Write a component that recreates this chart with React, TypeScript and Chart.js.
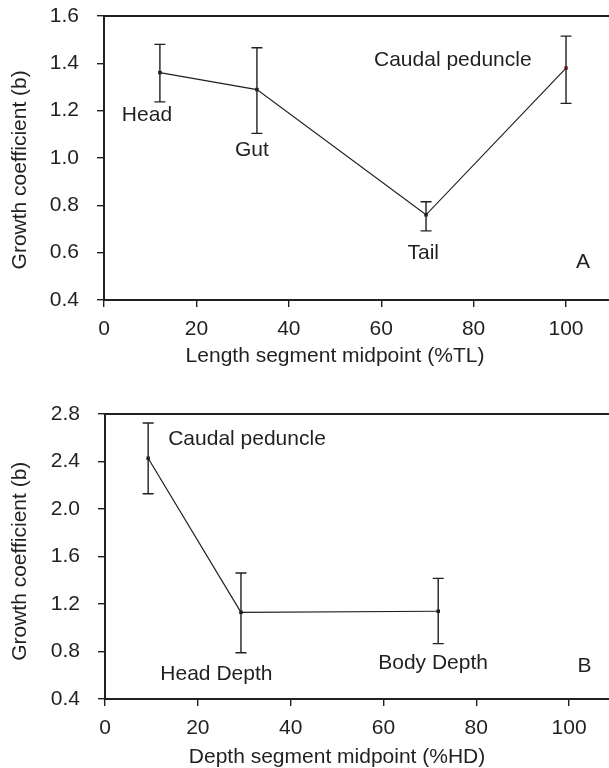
import React, { useEffect, useRef } from "react";
import { Chart, registerables } from "chart.js";

Chart.register(...registerables);

const FONT = '"Liberation Sans", Arial, Helvetica, sans-serif';
const INK = "#231f20";
const RED = "#9b1c1c";

// ---------- Panel A: length segments ----------
const lengthMidpoints = [12.1, 33.1, 69.7, 100];
const lengthGrowth = [1.361, 1.289, 0.76, 1.38];
const lengthLower = [1.237, 1.104, 0.692, 1.231];
const lengthUpper = [1.48, 1.466, 0.815, 1.515];
const lengthPointColors = [INK, INK, INK, RED];
const lengthNotes = ["Head", "Gut", "Tail", "Caudal peduncle", "A"];
const lengthNoteX = [9.3, 32.0, 69.1, 75.5, 103.7];
const lengthNoteY = [1.179, 1.031, 0.599, 1.412, 0.56];
const lengthXTicks = [0, 20, 40, 60, 80, 100];
const lengthYTicks = [0.4, 0.6, 0.8, 1.0, 1.2, 1.4, 1.6];

// ---------- Panel B: depth segments ----------
const depthMidpoints = [9.3, 29.3, 71.8];
const depthGrowth = [2.427, 1.13, 1.139];
const depthLower = [2.129, 0.79, 0.866];
const depthUpper = [2.724, 1.461, 1.416];
const depthPointColors = [INK, INK, INK];
const depthNotes = ["Caudal peduncle", "Head Depth", "Body Depth", "B"];
const depthNoteX = [30.6, 24.0, 70.7, 103.3];
const depthNoteY = [2.589, 0.611, 0.703, 0.678];
const depthXTicks = [0, 20, 40, 60, 80, 100];
const depthYTicks = [0.4, 0.8, 1.2, 1.6, 2.0, 2.4, 2.8];

const extrasPlugin = {
  id: "panelExtras",
  afterDraw(chart: any, _args: any, opts: any) {
    const { ctx, chartArea } = chart;
    const xs = chart.scales.x;
    const ys = chart.scales.y;
    ctx.save();
    // top frame line
    ctx.strokeStyle = INK;
    ctx.lineWidth = 2;
    ctx.beginPath();
    ctx.moveTo(chartArea.left - 1, chartArea.top);
    ctx.lineTo(chart.width, chartArea.top);
    ctx.stroke();

    // error bars
    ctx.lineWidth = 1.4;
    const xsVals: number[] = opts.xVals;
    xsVals.forEach((xv, i) => {
      const px = xs.getPixelForValue(xv);
      const lo = ys.getPixelForValue(opts.lower[i]);
      const hi = ys.getPixelForValue(opts.upper[i]);
      ctx.beginPath();
      ctx.moveTo(px, lo);
      ctx.lineTo(px, hi);
      ctx.moveTo(px - 5.5, lo);
      ctx.lineTo(px + 5.5, lo);
      ctx.moveTo(px - 5.5, hi);
      ctx.lineTo(px + 5.5, hi);
      ctx.stroke();
    });

    // annotations
    ctx.fillStyle = INK;
    ctx.font = `21px ${FONT}`;
    ctx.textAlign = "center";
    ctx.textBaseline = "middle";
    (opts.notes as string[]).forEach((t, i) => {
      ctx.fillText(t, xs.getPixelForValue(opts.noteX[i]), ys.getPixelForValue(opts.noteY[i]));
    });

    // x title
    ctx.fillText(opts.xTitle, xs.getPixelForValue(50), chartArea.bottom + opts.xTitleOffset);

    // y title
    ctx.translate(20, ys.getPixelForValue(opts.yTitleAt));
    ctx.rotate(-Math.PI / 2);
    ctx.fillText("Growth coefficient (b)", 0, 0);
    ctx.restore();
  },
};

type PanelProps = {
  top: number;
  xVals: number[];
  yVals: number[];
  lower: number[];
  upper: number[];
  pointColors: string[];
  notes: string[];
  noteX: number[];
  noteY: number[];
  xTicks: number[];
  yTicks: number[];
  xMax: number;
  yMin: number;
  yMax: number;
  padTop: number;
  axisLeft: number;
  xScaleHeight: number;
  xTitle: string;
  xTitleOffset: number;
  yTitleAt: number;
};

function Panel(p: PanelProps) {
  const ref = useRef<HTMLCanvasElement | null>(null);
  useEffect(() => {
    if (!ref.current) return;
    const chart = new Chart(ref.current, {
      type: "line",
      data: {
        datasets: [
          {
            data: p.xVals.map((x, i) => ({ x, y: p.yVals[i] })),
            borderColor: INK,
            borderWidth: 1.2,
            pointRadius: 2.5,
            pointStyle: "rect",
            pointBackgroundColor: p.pointColors,
            pointBorderColor: p.pointColors,
            pointBorderWidth: 0,
            tension: 0,
            fill: false,
          },
        ],
      },
      options: {
        animation: false,
        responsive: false,
        devicePixelRatio: 1,
        layout: { autoPadding: false, padding: { top: p.padTop, left: 0, right: 0, bottom: 0 } },
        plugins: {
          legend: { display: false },
          tooltip: { enabled: false },
          panelExtras: {
            xVals: p.xVals,
            lower: p.lower,
            upper: p.upper,
            notes: p.notes,
            noteX: p.noteX,
            noteY: p.noteY,
            xTitle: p.xTitle,
            xTitleOffset: p.xTitleOffset,
            yTitleAt: p.yTitleAt,
          },
        } as any,
        scales: {
          x: {
            type: "linear",
            min: 0,
            max: p.xMax,
            afterBuildTicks: (s: any) => {
              s.ticks = p.xTicks.map((v) => ({ value: v }));
            },
            afterFit: (s: any) => {
              s.height = p.xScaleHeight;
              s.paddingLeft = 0;
              s.paddingRight = 0;
            },
            ticks: {
              color: INK,
              font: { family: FONT, size: 21 },
              padding: 10,
              maxRotation: 0,
              autoSkip: false,
              callback: (v: any) => String(v),
            },
            grid: {
              drawOnChartArea: false,
              drawTicks: true,
              tickLength: 7,
              color: INK,
              lineWidth: 1.4,
            },
            border: { display: true, color: INK, width: 2 },
          },
          y: {
            type: "linear",
            min: p.yMin,
            max: p.yMax,
            afterBuildTicks: (s: any) => {
              s.ticks = p.yTicks.map((v) => ({ value: v }));
            },
            afterFit: (s: any) => {
              s.width = p.axisLeft;
              s.paddingTop = 0;
              s.paddingBottom = 0;
            },
            ticks: {
              color: INK,
              font: { family: FONT, size: 21 },
              padding: 18,
              autoSkip: false,
              callback: (v: any) => Number(v).toFixed(1),
            },
            grid: {
              drawOnChartArea: false,
              drawTicks: true,
              tickLength: 7,
              color: INK,
              lineWidth: 1.4,
            },
            border: { display: true, color: INK, width: 2 },
          },
        },
      },
      plugins: [extrasPlugin],
    });
    return () => chart.destroy();
  }, []);
  return (
    <canvas
      ref={ref}
      width={609}
      height={384}
      style={{ position: "absolute", left: 0, top: p.top, width: 609, height: 384, display: "block" }}
    />
  );
}

export default function App() {
  return (
    <div style={{ position: "absolute", left: 0, top: 0, width: 609, height: 768, background: "#fff", overflow: "hidden" }}>
      <Panel
        top={0}
        xVals={lengthMidpoints}
        yVals={lengthGrowth}
        lower={lengthLower}
        upper={lengthUpper}
        pointColors={lengthPointColors}
        notes={lengthNotes}
        noteX={lengthNoteX}
        noteY={lengthNoteY}
        xTicks={lengthXTicks}
        yTicks={lengthYTicks}
        xMax={109.3}
        yMin={0.4}
        yMax={1.6}
        padTop={16}
        axisLeft={104}
        xScaleHeight={84}
        xTitle="Length segment midpoint (%TL)"
        xTitleOffset={56}
        yTitleAt={0.95}
      />
      <Panel
        top={384}
        xVals={depthMidpoints}
        yVals={depthGrowth}
        lower={depthLower}
        upper={depthUpper}
        pointColors={depthPointColors}
        notes={depthNotes}
        noteX={depthNoteX}
        noteY={depthNoteY}
        xTicks={depthXTicks}
        yTicks={depthYTicks}
        xMax={108.6}
        yMin={0.4}
        yMax={2.8}
        padTop={30}
        axisLeft={105}
        xScaleHeight={69}
        xTitle="Depth segment midpoint (%HD)"
        xTitleOffset={58}
        yTitleAt={1.56}
      />
    </div>
  );
}
